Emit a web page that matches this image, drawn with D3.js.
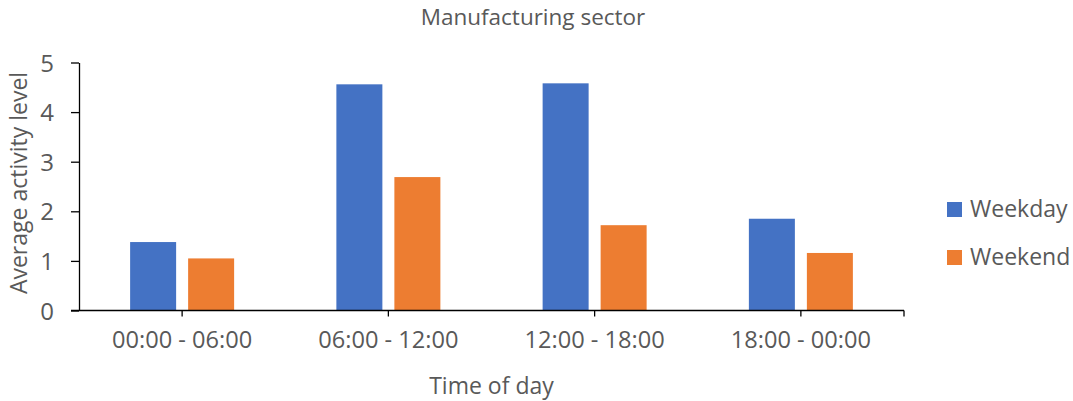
<!DOCTYPE html>
<html>
<head>
<meta charset="utf-8">
<script src="https://cdn.jsdelivr.net/npm/d3@7"></script>
<style>
  html, body { margin: 0; padding: 0; background: #fff; }
  svg { display: block; }
  text { font-family: "Open Sans", "Noto Sans", sans-serif; fill: #595959; }
</style>
</head>
<body>
<svg id="chart" width="1073" height="401"></svg>
<script>
const categories = ["00:00 - 06:00", "06:00 - 12:00", "12:00 - 18:00", "18:00 - 00:00"];
const seriesNames = ["Weekday", "Weekend"];
const weekday = [1.38, 4.56, 4.58, 1.85];
const weekend = [1.05, 2.69, 1.72, 1.16];
const yTicks = [0, 1, 2, 3, 4, 5];
const colors = ["#4472C4", "#ED7D31"];

const seriesValues = [weekday, weekend];
const svg = d3.select("#chart");

const plotLeft = 79, plotRight = 904, plotTop = 62.5, plotBottom = 310.5;

const x0 = d3.scaleBand().domain(categories).range([plotLeft, plotRight]).padding(0);
const groupHalf = 52;
const x1 = d3.scaleBand().domain(seriesNames)
  .range([x0.bandwidth() / 2 - groupHalf, x0.bandwidth() / 2 + groupHalf])
  .paddingInner(0.2069).paddingOuter(0);
const y = d3.scaleLinear().domain([0, 5]).range([plotBottom, plotTop]);
const color = d3.scaleOrdinal().domain(seriesNames).range(colors);

// Bars
const rows = categories.map((c, i) => ({ cat: c, vals: seriesNames.map((s, j) => ({ s, v: seriesValues[j][i] })) }));
const g = svg.append("g").selectAll("g").data(rows).join("g")
  .attr("transform", d => `translate(${x0(d.cat)},0)`);
g.selectAll("rect").data(d => d.vals).join("rect")
  .attr("x", d => x1(d.s))
  .attr("width", x1.bandwidth())
  .attr("y", d => y(d.v))
  .attr("height", d => y(0) - y(d.v))
  .attr("fill", d => color(d.s));

// Y axis
const yAxis = svg.append("g").attr("transform", `translate(${plotLeft},0)`)
  .call(d3.axisLeft(y).tickValues(yTicks).tickFormat(d3.format("d")).tickSize(8).tickSizeOuter(0).tickPadding(17));
yAxis.select(".domain").attr("stroke", "#000").attr("stroke-width", 1.3);
yAxis.selectAll(".tick line").attr("stroke", "#000").attr("stroke-width", 1.3);
yAxis.selectAll("text").attr("font-size", 24).attr("fill", "#595959")
  .attr("font-family", '"Open Sans", sans-serif').attr("dy", "0.36em");

// X axis
const xAxis = svg.append("g").attr("transform", `translate(0,${plotBottom})`)
  .call(d3.axisBottom(x0).tickSize(6).tickSizeOuter(0).tickPadding(14));
xAxis.select(".domain").remove();
xAxis.selectAll(".tick line").attr("stroke", "#000").attr("stroke-width", 1.3);
xAxis.selectAll("text").attr("font-size", 23.6).attr("fill", "#595959")
  .attr("font-family", '"Open Sans", sans-serif').attr("dy", "0.76em");
xAxis.append("line").attr("x1", plotLeft - 8).attr("x2", plotRight).attr("y1", 0).attr("y2", 0)
  .attr("stroke", "#000").attr("stroke-width", 1.3);
xAxis.append("line").attr("x1", plotRight).attr("x2", plotRight).attr("y1", 0).attr("y2", 6)
  .attr("stroke", "#000").attr("stroke-width", 1.3);

// Title
svg.append("text").attr("x", 533).attr("y", 25).attr("text-anchor", "middle")
  .attr("font-size", 22.5).text("Manufacturing sector");

// Axis titles
svg.append("text").attr("x", 491.5).attr("y", 394).attr("text-anchor", "middle")
  .attr("font-size", 23).text("Time of day");
svg.append("text").attr("transform", "translate(27,183) rotate(-90)").attr("text-anchor", "middle")
  .attr("font-size", 23).text("Average activity level");

// Legend
const legend = svg.append("g").selectAll("g").data(seriesNames).join("g")
  .attr("transform", (d, i) => `translate(947,${202 + i * 48})`);
legend.append("rect").attr("width", 15).attr("height", 15).attr("fill", d => color(d));
legend.append("text").attr("x", 23).attr("y", 14.5).attr("font-size", 23).text(d => d);
</script>
</body>
</html>
